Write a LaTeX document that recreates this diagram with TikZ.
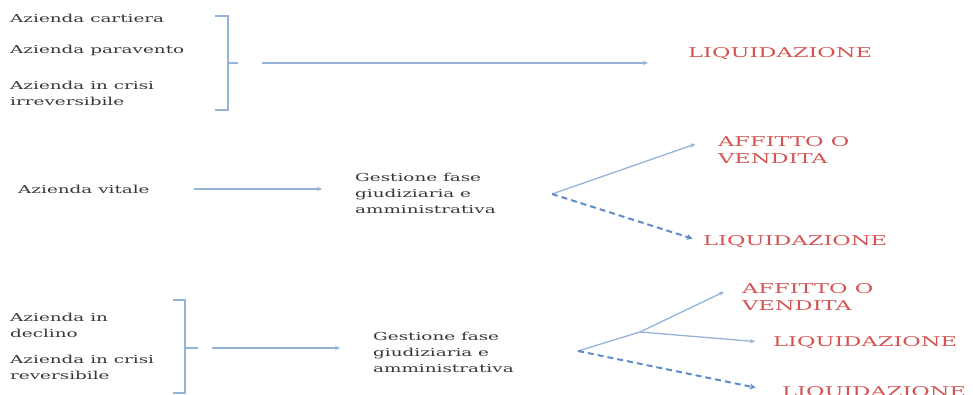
\documentclass[tikz,border=0pt]{standalone}
\usepackage{fontspec}
\setmainfont{DejaVu Serif}[FakeStretch=1.67]
\usepackage{tikz}
\usetikzlibrary{arrows.meta}

\definecolor{linkblue}{RGB}{149,179,215}
\definecolor{dashblue}{RGB}{95,140,200}
\definecolor{outred}{RGB}{212,84,84}
\definecolor{txtgray}{RGB}{55,55,55}

\begin{document}
\begin{tikzpicture}[x=1pt,y=1pt,
    item/.style={anchor=west,inner sep=0pt,align=left,text=txtgray,font=\fontsize{11}{16}\selectfont},
    outcome/.style={anchor=west,inner sep=0pt,align=left,text=outred,font=\fontsize{13.5}{17}\selectfont},
    arr/.style={-{Stealth[length=5pt,width=4.5pt]},linkblue,line width=1.3pt},
    dasharr/.style={-{Stealth[length=6pt,width=6pt]},dashblue,line width=2pt,dash pattern=on 6pt off 4pt},
    brace/.style={linkblue,line width=1.3pt}]
    \useasboundingbox (0,0) rectangle (973,395);

    % First group
    \node[item] (cart) at (10,377) {Azienda cartiera};
    \node[item] (parav) at (10,345) {Azienda paravento};
    \node[item] (irrev) at (10,302) {Azienda in crisi\\irreversibile};
    \draw[brace] (215,379) -- (228,379) -- (228,285) -- (215,285);
    \draw[brace] (228,332) -- (238,332);
    \coordinate (br1) at (238,332);
    \node[outcome] (liq1) at (688,341) {LIQUIDAZIONE};
    \draw[arr,shorten <=24pt,shorten >=40pt] (br1) -- (br1 -| liq1.west);

    % Second group
    \node[item] (vit) at (18,206) {Azienda vitale};
    \node[item] (gest1) at (355,202) {Gestione fase\\giudiziaria e\\amministrativa};
    \draw[arr,shorten <=44pt,shorten >=33pt] (vit.east) -- (vit.east -| gest1.west);
    \coordinate (sp1) at (552,201);
    \node[outcome] (aff1) at (718,245) {AFFITTO O\\VENDITA};
    \node[outcome] (liq2) at (703,153) {LIQUIDAZIONE};
    \draw[arr,shorten >=24pt] (sp1) -- (aff1.north west);
    \draw[dasharr,shorten >=11pt] (sp1) -- (liq2.west);

    % Third group
    \node[item] (decl) at (10,70) {Azienda in\\declino};
    \node[item] (rev) at (10,28) {Azienda in crisi\\reversibile};
    \draw[brace] (173,95) -- (185,95) -- (185,2) -- (173,2);
    \draw[brace] (185,47) -- (198,47);
    \coordinate (br2) at (198,47);
    \node[item] (gest2) at (373,43) {Gestione fase\\giudiziaria e\\amministrativa};
    \draw[arr,shorten <=14pt,shorten >=33pt] (br2) -- (br2 -| gest2.west);
    \coordinate (sp2) at (578,44);
    \coordinate (fork) at (640,63);
    \node[outcome] (aff2) at (742,98) {AFFITTO O\\VENDITA};
    \node[outcome] (liq3) at (773,52) {LIQUIDAZIONE};
    \node[outcome,anchor=base west] (liq4) at (782,-2) {LIQUIDAZIONE};
    \draw[arr,shorten >=20pt] (sp2) -- (fork) -- (aff2.north west);
    \draw[arr,shorten >=18pt] (fork) -- (liq3.west);
    \draw[dasharr,shorten >=27pt] (sp2) -- (liq4.west);
\end{tikzpicture}
\end{document}
